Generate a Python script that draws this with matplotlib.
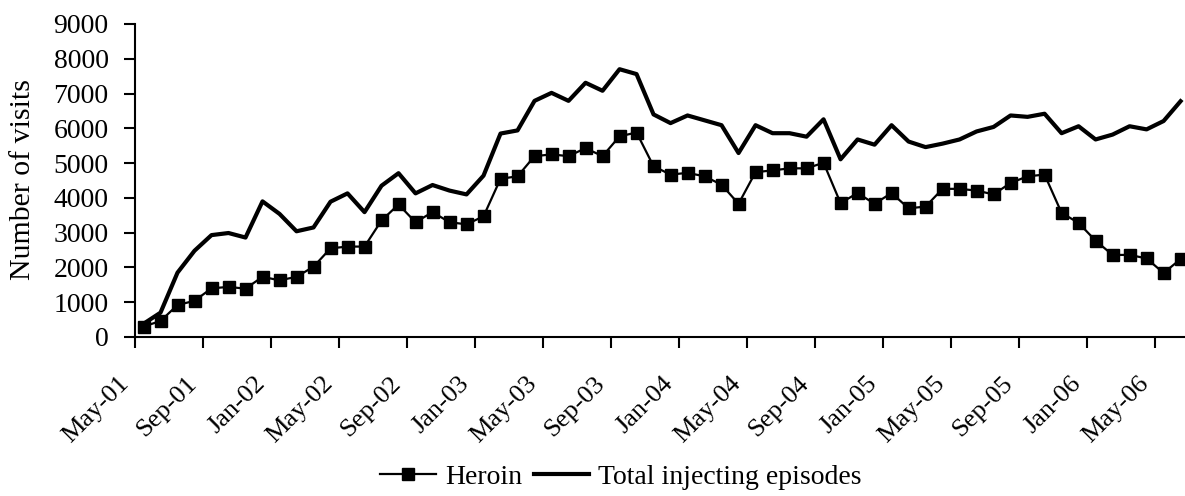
import matplotlib
matplotlib.use("Agg")
import matplotlib.pyplot as plt
import matplotlib.transforms as mtransforms
import numpy as np

months = ["May-01","Jun-01","Jul-01","Aug-01","Sep-01","Oct-01","Nov-01","Dec-01",
          "Jan-02","Feb-02","Mar-02","Apr-02","May-02","Jun-02","Jul-02","Aug-02",
          "Sep-02","Oct-02","Nov-02","Dec-02","Jan-03","Feb-03","Mar-03","Apr-03",
          "May-03","Jun-03","Jul-03","Aug-03","Sep-03","Oct-03","Nov-03","Dec-03",
          "Jan-04","Feb-04","Mar-04","Apr-04","May-04","Jun-04","Jul-04","Aug-04",
          "Sep-04","Oct-04","Nov-04","Dec-04","Jan-05","Feb-05","Mar-05","Apr-05",
          "May-05","Jun-05","Jul-05","Aug-05","Sep-05","Oct-05","Nov-05","Dec-05",
          "Jan-06","Feb-06","Mar-06","Apr-06","May-06","Jun-06"]

heroin = [300, 460, 920, 1040, 1400, 1440, 1390, 1730, 1630, 1730, 2020, 2550,
          2600, 2600, 3350, 3810, 3300, 3590, 3300, 3240, 3470, 4550, 4620, 5200,
          5250, 5200, 5430, 5200, 5770, 5880, 4910, 4670, 4720, 4620, 4380, 3830,
          4740, 4790, 4850, 4850, 5010, 3850, 4140, 3830, 4140, 3700, 3750, 4260,
          4260, 4210, 4100, 4430, 4620, 4670, 3570, 3280, 2770, 2360, 2360, 2260,
          1840, 2240]

total = [380, 700, 1850, 2480, 2930, 2990, 2860, 3900, 3540, 3040, 3150, 3890,
         4130, 3590, 4350, 4710, 4130, 4370, 4210, 4100, 4640, 5850, 5940, 6790,
         7020, 6790, 7310, 7080, 7700, 7560, 6400, 6150, 6370, 6230, 6090, 5290,
         6090, 5860, 5860, 5760, 6260, 5110, 5680, 5530, 6090, 5620, 5460, 5560,
         5680, 5910, 6040, 6370, 6330, 6420, 5860, 6060, 5680, 5820, 6060, 5970,
         6210, 6780]

label_every = 4
yticks = list(range(0, 9001, 1000))

plt.rcParams['font.family'] = ['Liberation Serif', 'DejaVu Serif']

fig = plt.figure(figsize=(11.85, 4.96), dpi=100)
ax = fig.add_axes([135/1185, 159/496, 1 - 135/1185, (337-24)/496])

x = np.arange(len(months))
ax.plot(x, heroin, color='black', lw=1.6, marker='s', markersize=8.5, label='Heroin')
ax.plot(x, total, color='black', lw=3.0, label='Total injecting episodes')

ax.set_xlim(-0.5, 61.26)
ax.set_ylim(0, 9000)
ax.set_yticks(yticks)
ax.set_yticklabels([str(v) for v in yticks], fontsize=20)

major = np.arange(-0.5, len(months), label_every)
ax.set_xticks(major)
ax.set_xticklabels([])
minor = np.arange(0, len(months), label_every)
ax.set_xticks(minor, minor=True)
ax.set_xticklabels([months[i] for i in minor], minor=True, rotation=45,
                   ha='right', va='center', rotation_mode='anchor', fontsize=19)
ax.tick_params(axis='x', which='minor', length=0, pad=31)
ax.tick_params(axis='x', which='major', direction='out', length=8, width=1.5)
ax.tick_params(axis='y', direction='out', length=8, width=1.5, pad=11)

offset = mtransforms.ScaledTranslation(-18/100, 0, fig.dpi_scale_trans)
for lbl in ax.get_xticklabels(minor=True):
    lbl.set_transform(lbl.get_transform() + offset)

for s in ['top', 'right']:
    ax.spines[s].set_visible(False)
ax.spines['left'].set_linewidth(1.5)
ax.spines['bottom'].set_linewidth(1.5)

fig.text(23/1185, 1 - 180/496, 'Number of visits', rotation=90,
         ha='center', va='center', fontsize=21.5)

fig.legend(loc='center', bbox_to_anchor=(621/1185, 1 - 477/496), ncol=2,
           frameon=False, fontsize=20, handlelength=2.0, handletextpad=0.32,
           columnspacing=0.43)

fig.savefig('out.png', dpi=100)
